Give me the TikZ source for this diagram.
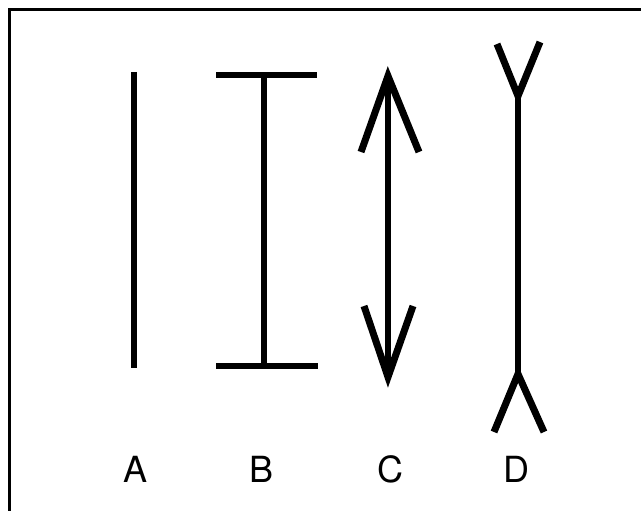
\documentclass[tikz,border=0pt]{standalone}
\usepackage{fontspec}
\setmainfont{TeX Gyre Heros}
\begin{document}
\begin{tikzpicture}[x=1pt, y=-1pt, bar/.style={line width=6.5pt}, wing/.style={line width=7pt, line join=miter}, every node/.style={font=\fontsize{36}{40}\selectfont}]
  \useasboundingbox (0,0) rectangle (641,511);
  % Frame
  \draw[line width=3pt] (9,511) -- (9,10) -- (641,10);

  % A - plain line
  \coordinate (A1) at (134,72);
  \coordinate (A2) at (134,368);
  \draw[bar] (A1) -- (A2);

  % B - line with end bars
  \coordinate (B1) at (264,75);
  \coordinate (B2) at (264,366);
  \draw[bar] (B1) -- (B2);
  \draw[bar] (216,75) -- (317,75);
  \draw[bar] (216,366) -- (318,366);

  % C - arrows pointing outward
  \coordinate (C1) at (388,76);
  \coordinate (C2) at (388,377);
  \draw[bar] (C1) -- (C2);
  \draw[wing] (361,152) -- (C1) -- (419,152);
  \draw[wing] (364,306) -- (C2) -- (413,306);

  % D - forks pointing inward
  \coordinate (D1) at (518,96);
  \coordinate (D2) at (518,374);
  \draw[bar] (D1) -- (D2);
  \draw[wing] (497,44) -- (D1) -- (540,42);
  \draw[wing] (494,432) -- (D2) -- (544,432);

  % Labels
  \node (LA) at (136,469) {A};
  \node (LB) at (262,469) {B};
  \node (LC) at (390,469) {C};
  \node (LD) at (516,469) {D};
\end{tikzpicture}
\end{document}
